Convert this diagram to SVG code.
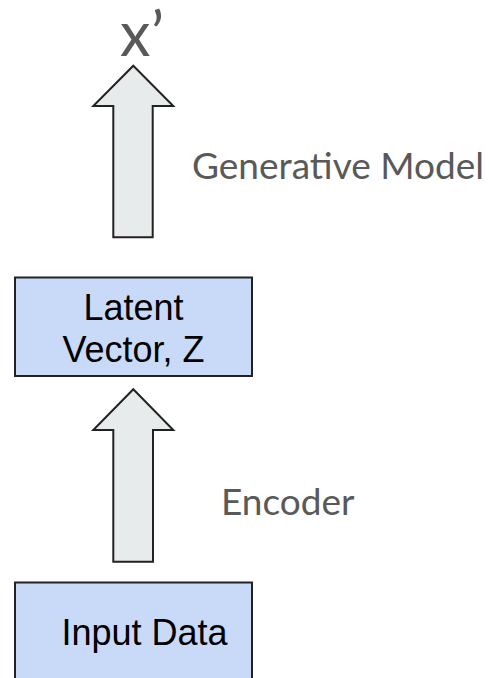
<svg xmlns="http://www.w3.org/2000/svg" width="489" height="678" viewBox="0 0 489 678">
  <style>
    .box { fill: #c9daf8; stroke: #222222; stroke-width: 2; }
    .arrow { fill: #e8ebeb; stroke: #222222; stroke-width: 2; stroke-linejoin: miter; }
    .boxtext { font-family: "Liberation Sans", Arial, sans-serif; font-size: 36px; fill: #000000; text-anchor: middle; }
    .label { font-family: Lato, "Open Sans", sans-serif; font-size: 37px; fill: #595959; }
    .out { font-family: Lato, "Open Sans", sans-serif; font-size: 61px; fill: #595959; }
  </style>
  <rect width="489" height="678" fill="#ffffff"/>

  <g id="output">
    <text class="out" x="120" y="56">x<tspan x="151">’</tspan></text>
  </g>

  <g id="connectors">
    <!-- block arrow: latent vector -> output -->
    <path class="arrow" d="M133.3,65.7 L173.3,106 L152.7,106 L152.7,237.3 L113.3,237.3 L113.3,106 L93.3,106 Z"/>
    <!-- block arrow: input data -> latent vector -->
    <path class="arrow" d="M133.3,389.3 L173.3,430 L153,430 L153,561.7 L113.3,561.7 L113.3,430 L93.3,430 Z"/>
  </g>

  <g id="label-generative">
    <text class="label" x="192" y="179">Generative Model</text>
  </g>

  <g id="label-encoder">
    <text class="label" x="221" y="515">Encoder</text>
  </g>

  <g id="latent">
    <rect class="box" x="15" y="277.5" width="237" height="98.5"/>
    <text class="boxtext" x="133.5" y="320">Latent</text>
    <text class="boxtext" x="133.5" y="361.5">Vector, Z</text>
  </g>

  <g id="input">
    <rect class="box" x="15" y="582.5" width="237" height="110"/>
    <text class="boxtext" x="144.5" y="645">Input Data</text>
  </g>
</svg>
